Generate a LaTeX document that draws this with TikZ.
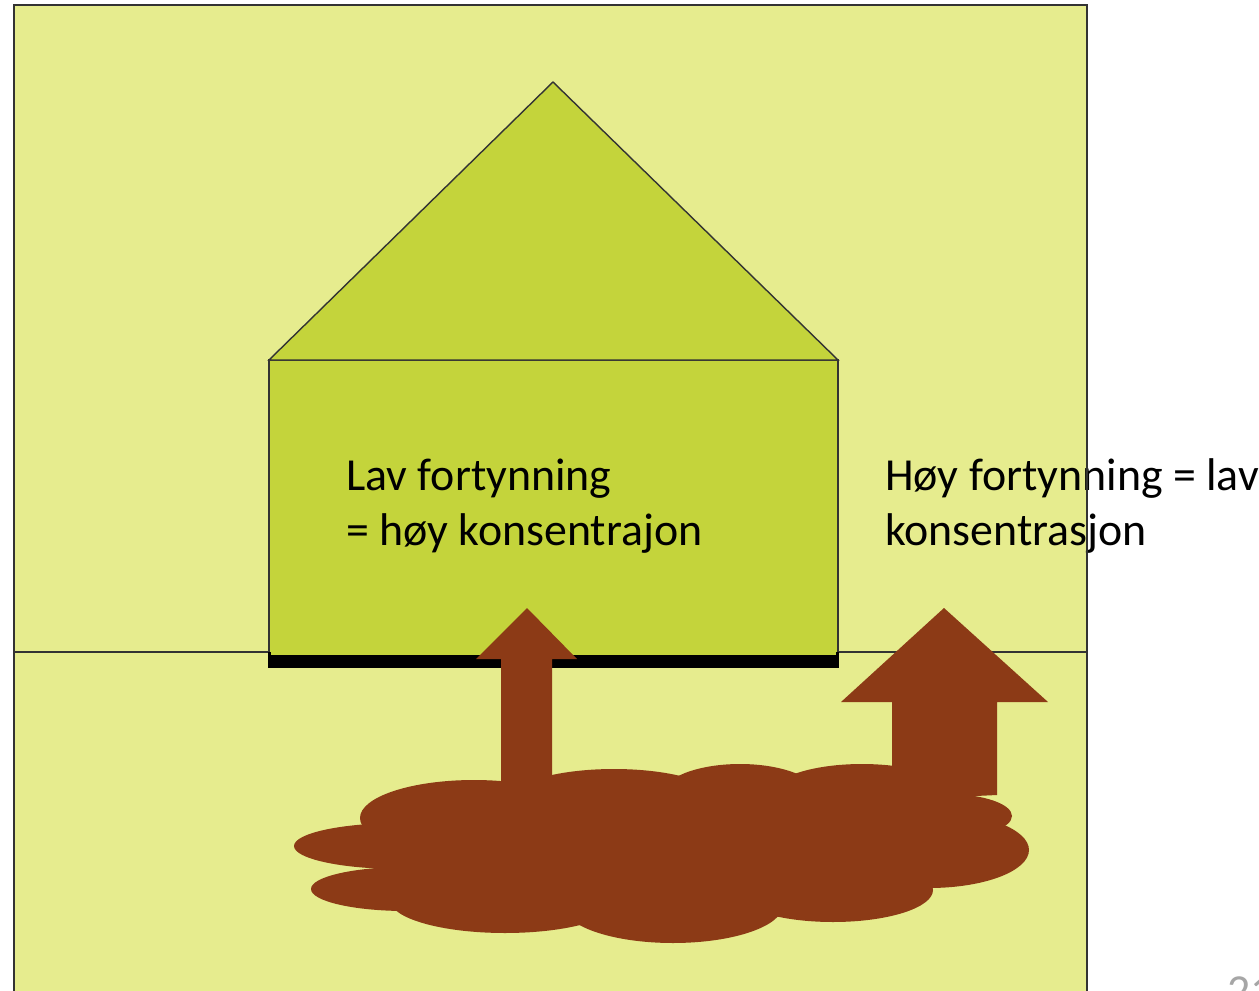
\documentclass[tikz,border=0pt]{standalone}
\usepackage{fontspec}
\setmainfont{Carlito}
\usepackage{xcolor}

\definecolor{meadow}{HTML}{E6EC8E}
\definecolor{housegreen}{HTML}{C4D43B}
\definecolor{mud}{HTML}{8C3A16}
\definecolor{frame}{HTML}{333333}

\begin{document}
\begin{tikzpicture}[x=0.02cm, y=-0.02cm]
        \useasboundingbox (0, 0) rectangle (1259, 991);

        % page number
        \node[anchor=north west, inner sep=0, text=gray!70, font=\fontsize{26.1}{30}\selectfont] (pagenum) at (1227, 976) {21};

        % field
        \fill[meadow] (14, 5) rectangle (1087, 1000);

        % right text
        \node[anchor=base west, inner sep=0, font=\fontsize{26.1}{30}\selectfont] (hightxt) at (885, 490) {Høy fortynning = lav};
        \node[anchor=base west, inner sep=0, font=\fontsize{26.1}{30}\selectfont] (hightxtb) at (885, 545) {konsentrasjon};

        % frame and ground line
        \draw[frame, line width=1.5pt] (14, 1000) -- (14, 5) -- (1087, 5) -- (1087, 1000);
        \draw[frame, line width=0.8pt] (14, 652) -- (1087, 652);

        % foundation
        \fill[black] (268, 652) rectangle (839, 668);

        % house
        \filldraw[fill=housegreen, draw=frame, line width=0.8pt] (269, 652) -- (269, 360) -- (838, 360) -- (838, 652);
        \fill[housegreen] (271, 361) rectangle (836, 655);
        \filldraw[fill=housegreen, draw=frame, line width=0.8pt] (269, 360) -- (553, 82) -- (838, 360) -- cycle;

        % left text
        \node[anchor=base west, inner sep=0, font=\fontsize{26.1}{30}\selectfont] (lowtxt) at (346, 490) {Lav fortynning};
        \node[anchor=base west, inner sep=0, font=\fontsize{26.1}{30}\selectfont] (lowtxtb) at (346, 545) {= høy konsentrajon};

        % arrows
        \fill[mud] (501, 800) -- (501, 659) -- (476, 659) -- (527, 608) -- (577, 659) -- (552, 659) -- (552, 800) -- cycle;
        \fill[mud] (892, 800) -- (892, 702) -- (841, 702) -- (944, 608) -- (1048, 702) -- (997, 702) -- (997, 795) -- cycle;

        % cloud
        \fill[mud] (660, 850) ellipse [x radius=300, y radius=62];
        \fill[mud] (400, 846) ellipse [x radius=106, y radius=23];
        \fill[mud] (406, 889) ellipse [x radius=95, y radius=22];
        \fill[mud] (474, 818) ellipse [x radius=114, y radius=38];
        \fill[mud] (614, 800) ellipse [x radius=105, y radius=31];
        \fill[mud] (740, 795) ellipse [x radius=78, y radius=31];
        \fill[mud] (862, 795) ellipse [x radius=92, y radius=31];
        \fill[mud] (947, 816) ellipse [x radius=65, y radius=22];
        \fill[mud] (929, 850) ellipse [x radius=100, y radius=38];
        \fill[mud] (833, 890) ellipse [x radius=100, y radius=32];
        \fill[mud] (673, 905) ellipse [x radius=110, y radius=38];
        \fill[mud] (505, 900) ellipse [x radius=115, y radius=33];
    \end{tikzpicture}
\end{document}
